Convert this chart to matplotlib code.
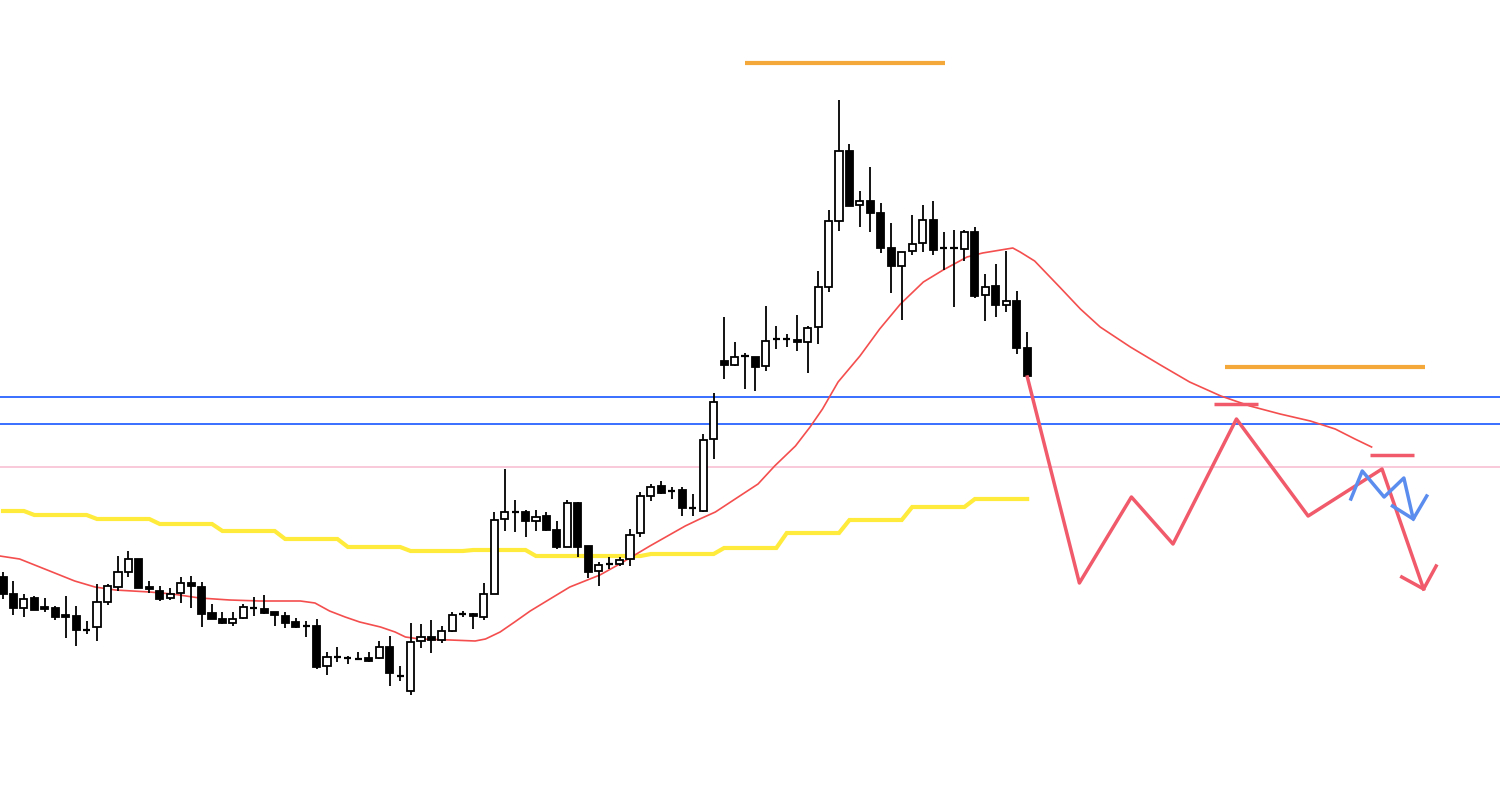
import matplotlib
matplotlib.use("Agg")
import matplotlib.pyplot as plt
import numpy as np

# 蜡烛数据 (开, 高, 低, 收)
opens = [225, 208, 194, 204, 195, 194, 187, 186, 172, 175, 200, 215, 230, 243, 215, 211, 204, 209, 219, 215,
         189, 183, 179, 184, 194, 193, 190, 186, 180, 176, 176, 136, 145, 144, 143, 144, 144, 155, 126, 111,
         161, 165, 162, 171, 188, 188, 185, 208, 283, 290, 290, 281, 286, 272, 255, 299, 256, 231, 238, 238,
         243, 269, 306, 316, 311, 312, 294, 291, 363, 441, 437, 446, 445, 436, 463, 463, 462, 460, 475, 515,
         581, 651, 597, 601, 589, 554, 536, 551, 559, 582, 554, 554, 553, 570, 507, 516, 497, 501, 454]
highs = [230, 221, 208, 206, 204, 196, 206, 196, 181, 218, 218, 246, 251, 243, 221, 216, 214, 225, 226, 220,
         198, 190, 190, 198, 205, 207, 190, 190, 184, 181, 183, 150, 155, 146, 150, 150, 161, 166, 136, 179,
         178, 182, 176, 190, 191, 189, 219, 290, 333, 302, 292, 292, 290, 281, 302, 300, 256, 240, 245, 245,
         273, 310, 318, 321, 315, 315, 308, 368, 409, 485, 460, 449, 445, 496, 476, 468, 487, 476, 531, 592,
         702, 658, 611, 635, 599, 579, 550, 587, 597, 601, 570, 572, 572, 575, 528, 538, 551, 511, 470]
lows = [203, 187, 185, 192, 190, 182, 164, 156, 168, 161, 197, 211, 225, 214, 209, 201, 202, 199, 194, 175,
        183, 178, 176, 183, 186, 188, 176, 174, 174, 165, 133, 127, 140, 138, 142, 140, 143, 116, 121, 107,
        154, 149, 159, 170, 185, 173, 182, 208, 271, 270, 265, 271, 271, 253, 255, 245, 224, 216, 233, 236,
        236, 265, 301, 308, 303, 286, 286, 290, 343, 423, 436, 413, 411, 431, 453, 455, 451, 429, 458, 510,
        571, 596, 575, 570, 549, 509, 482, 547, 550, 547, 532, 495, 541, 504, 481, 485, 490, 448, 425]
closes = [208, 194, 203, 192, 193, 185, 185, 172, 172, 200, 216, 230, 243, 214, 213, 203, 208, 219, 216, 188,
          183, 179, 183, 195, 194, 189, 187, 179, 175, 176, 135, 145, 145, 144, 143, 141, 155, 129, 126, 160,
          165, 162, 171, 187, 188, 186, 208, 282, 290, 290, 281, 285, 272, 255, 299, 255, 230, 237, 238, 242,
          267, 306, 315, 309, 311, 294, 294, 362, 400, 437, 445, 446, 435, 461, 463, 463, 460, 474, 515, 581,
          651, 596, 601, 589, 554, 536, 550, 558, 582, 552, 554, 554, 570, 506, 515, 497, 501, 454, 426]

# 黄线 (每根蜡烛一个值)
yellow = [291] * 3 + [287] * 6 + [283] * 6 + [278] * 6 + [271] * 6 + [263] * 6 + [255] * 6 + [251] * 6 \
    + [252] * 6 + [246] * 11 + [248] * 7 + [254] * 6 + [269] * 6 + [282] * 6 + [295] * 6 + [303] * 6

# 均线 (红色细线)
ema_x = [-0.3, 1.59, 4.47, 6.86, 8.8, 10.74, 14.03, 16.22, 18.81, 21.69, 24.58, 28.46, 29.85, 31.25, 32.74,
         34.13, 36.12, 37.52, 38.51, 39.9, 42.79, 45.18, 46.17, 47.57, 48.96, 50.45, 52.34, 54.24, 57.12, 59.01,
         61.9, 65.28, 66.68, 68.17, 70.06, 72.25, 73.84, 75.83, 77.23, 78.42, 79.91, 82.0, 83.89, 85.88, 88.07,
         89.96, 92.25, 93.74, 96.63, 97.33, 98.72, 101.11, 103.1, 104.99, 107.88, 110.76, 113.55, 116.54,
         119.32, 122.21, 125.1, 127.48, 129.37, 130.96]
ema_y = [246, 243, 231, 221, 215, 212, 210, 208, 204, 202, 201, 201, 199, 191, 185,
         180, 175, 170, 165, 163, 162, 161, 163, 170, 180, 191, 203, 215, 227, 238,
         256, 276, 283, 290, 303, 318, 336, 356, 375, 393, 420, 446, 473, 498, 520,
         532, 545, 549, 554, 550, 541, 515, 493, 475, 455, 437, 420, 406,
         396, 388, 381, 373, 363, 355]

# 水平线
orange_levels = [739, 435]
orange_spans = [(71.0, 90.16), (116.93, 136.04)]
blue_levels = [405, 378]
pink_level = 335
red_levels = [398, 347]
red_spans = [(115.84, 120.12), (130.77, 135.05)]

# 预测走势
zig_x = [98.02, 103.0, 107.98, 111.96, 118.03, 124.89, 131.96, 135.94]
zig_y = [425, 219, 305, 258, 383, 286, 333, 213]
zig_head_x = [133.85, 135.94, 137.14]
zig_head_y = [225, 213, 236]
blue_x = [128.98, 130.07, 132.16, 134.05, 134.95, 136.24]
blue_y = [303, 331, 305, 324, 283, 306]
blue_head_x = [132.96, 134.95]
blue_head_y = [296, 283]

fig = plt.figure(figsize=(15, 8.03), dpi=100)
ax = fig.add_axes([0, 0, 1, 1])
ax.set_xlim(-0.287, 143.25)
ax.set_ylim(0, 803)
ax.axis('off')

for y in blue_levels:
    ax.axhline(y, color='#2962ff', lw=1.3, zorder=1)
ax.axhline(pink_level, color='#f8bbd0', lw=1.1, zorder=1)

idx = np.arange(len(opens))
ax.plot(idx, yellow, color='#ffeb3b', lw=3, zorder=2, solid_joinstyle='miter')
ax.plot(ema_x, ema_y, color='#f44e4e', lw=1.2, zorder=2)

# 蜡烛
w = 0.68
for i in idx:
    o, h, l, c = opens[i], highs[i], lows[i], closes[i]
    ax.vlines(i, l, h, color='black', lw=1.3, zorder=3)
    if o == c:
        ax.hlines(o, i - w / 2, i + w / 2, color='black', lw=1.6, zorder=4)
    else:
        face = 'white' if c > o else 'black'
        ax.bar(i, abs(c - o), bottom=min(o, c), width=w, color=face, edgecolor='black', lw=1.3, zorder=4)

for y, (x0, x1) in zip(orange_levels, orange_spans):
    ax.hlines(y, x0, x1, color='#f5a83a', lw=3, zorder=5)
for y, (x0, x1) in zip(red_levels, red_spans):
    ax.hlines(y, x0, x1, color='#f05a6a', lw=2.5, zorder=5)

ax.plot(zig_x, zig_y, color='#f05a6a', lw=2.5, zorder=5)
ax.plot(zig_head_x, zig_head_y, color='#f05a6a', lw=2.5, zorder=5)
ax.plot(blue_x, blue_y, color='#5b8def', lw=2.5, zorder=6)
ax.plot(blue_head_x, blue_head_y, color='#5b8def', lw=2.5, zorder=6)

fig.savefig('out.png', dpi=100, facecolor='white')
